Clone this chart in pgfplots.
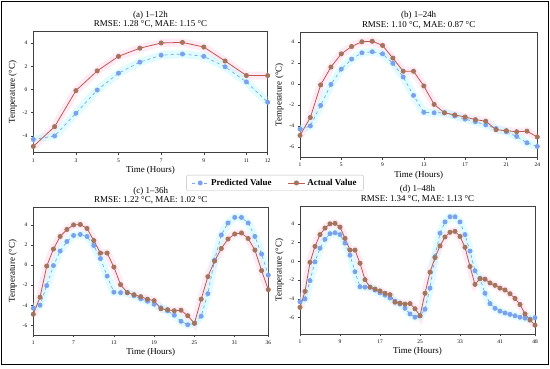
\documentclass[border=0pt]{standalone}
\usepackage{fontspec}
\setmainfont{Liberation Serif}
\usepackage{pgfplots}
\usepackage{pgfplotstable}
\pgfplotsset{compat=1.18}
\definecolor{predc}{HTML}{7AA0EE}
\definecolor{predl}{HTML}{7AA6EC}
\definecolor{actc}{HTML}{C4574E}
\definecolor{actm}{HTML}{A4745C}
\definecolor{predband}{HTML}{C4FAFF}
\definecolor{actband}{HTML}{FFD2E8}

\pgfplotstableread{
h act pred
1 -4.9 -4.3
2 -3.2 -4.0
3 -0.1 -2.05
4 1.6 -0.05
5 2.85 1.4
6 3.55 2.35
7 4.0 2.95
8 4.05 3.05
9 3.65 2.85
10 2.45 1.95
11 1.2 0.65
12 1.2 -1.1
13 -0.2 -2.7
14 -1.95 -2.75
15 -2.75 -2.75
16 -2.95 -3.05
17 -3.15 -3.35
18 -3.4 -3.6
19 -3.55 -3.9
20 -4.35 -4.25
21 -4.45 -4.55
22 -4.55 -5.0
23 -4.5 -5.6
24 -5.05 -5.95
25 -5.8 -5.8
26 -3.4 -5.1
27 -1.15 -2.85
28 0.4 0.5
29 1.65 3.0
30 2.6 4.2
31 3.1 4.75
32 3.2 4.75
33 2.65 4.2
34 1.5 2.85
35 -0.55 1.1
36 -2.45 -1.0
37 -1.85 -1.8
38 -1.9 -3.4
39 -2.3 -4.5
40 -2.55 -5.0
41 -2.85 -5.3
42 -3.05 -5.5
43 -3.45 -5.65
44 -3.95 -5.8
45 -4.6 -5.95
46 -5.6 -6.05
47 -6.25 -6.15
48 -6.8 -6.0
}\data

\pgfplotsset{
  panel/.style={
    scale only axis, anchor=south west,
    axis line style={black!75, line width=0.6pt},
    tick style={black!75, line width=0.5pt},
    major tick length=2.5pt,
    tick align=outside, xtick pos=bottom, ytick pos=left,
    ticklabel style={font=\fontsize{5.5}{6}\selectfont},
    /pgf/number format/assume math mode=true,
    xlabel={Time (Hours)}, ylabel={Temperature (°C)},
    label style={font=\fontsize{9}{10}\selectfont},
    xlabel style={yshift=3pt},
    ylabel style={yshift=-1pt},
    title style={align=center, font=\fontsize{9}{9.5}\selectfont, yshift=-6pt},
  },
}
\newcommand{\series}[1]{%
  \addplot[actband, line width=8pt, opacity=0.45, forget plot, restrict x to domain=1:#1] table[x=h,y=act]{\data};
  \addplot[predband, line width=8pt, opacity=0.5, forget plot, restrict x to domain=1:#1] table[x=h,y=pred]{\data};
  \addplot[predl, dashed, line width=0.7pt, mark=*, mark size=2.1pt, mark options={solid, fill=predc, draw=predc}, restrict x to domain=1:#1] table[x=h,y=pred]{\data};
  \addplot[actc, line width=0.8pt, mark=*, mark size=2.1pt, mark options={solid, fill=actm, draw=actm}, restrict x to domain=1:#1] table[x=h,y=act]{\data};
}

\begin{document}
\begin{tikzpicture}[x=1bp,y=1bp]
\useasboundingbox (0,0) rectangle (550,368);
\draw[line width=1pt] (1.5,4) rectangle (548.5,366.5);

\begin{axis}[panel, at={(33.3bp,215.3bp)}, width=234.4bp, height=121bp,
  xmin=1, xmax=12, ymin=-5.44, ymax=4.97,
  xtick={1,3,5,7,9,11,12}, ytick={-4,-2,0,2,4},
  title={(a) 1–12h\\RMSE: 1.28 °C, MAE: 1.15 °C},
  legend columns=2,
  legend style={at={(1.031,-0.25)}, anchor=center, draw=black!25, rounded corners=2pt,
    font=\bfseries\fontsize{9}{10}\selectfont, /tikz/every even column/.append style={column sep=14pt},
    inner xsep=5pt, inner ysep=2pt},
]
\series{12}
\legend{Predicted Value, Actual Value}
\end{axis}

\begin{axis}[panel, at={(300bp,210.7bp)}, width=237.3bp, height=125bp,
  xmin=1, xmax=24, ymin=-6.98, ymax=4.9,
  xtick={1,5,9,13,17,21,24}, ytick={-6,-4,-2,0,2,4},
  title={(b) 1–24h\\RMSE: 1.10 °C, MAE: 0.87 °C},
]
\series{24}
\end{axis}

\begin{axis}[panel, at={(33.3bp,33bp)}, width=235bp, height=127.3bp,
  xmin=1, xmax=36, ymin=-6.97, ymax=5.72,
  xtick={1,7,13,19,25,31,36}, ytick={-6,-4,-2,0,2,4},
  title={(c) 1–36h\\RMSE: 1.22 °C, MAE: 1.02 °C},
]
\series{36}
\end{axis}

\begin{axis}[panel, at={(300bp,34bp)}, width=235bp, height=128bp,
  xmin=1, xmax=48, ymin=-7.74, ymax=5.9,
  xtick={1,9,17,25,33,41,48}, ytick={-6,-4,-2,0,2,4},
  title={(d) 1–48h\\RMSE: 1.34 °C, MAE: 1.13 °C},
]
\series{48}
\end{axis}
\end{tikzpicture}
\end{document}
